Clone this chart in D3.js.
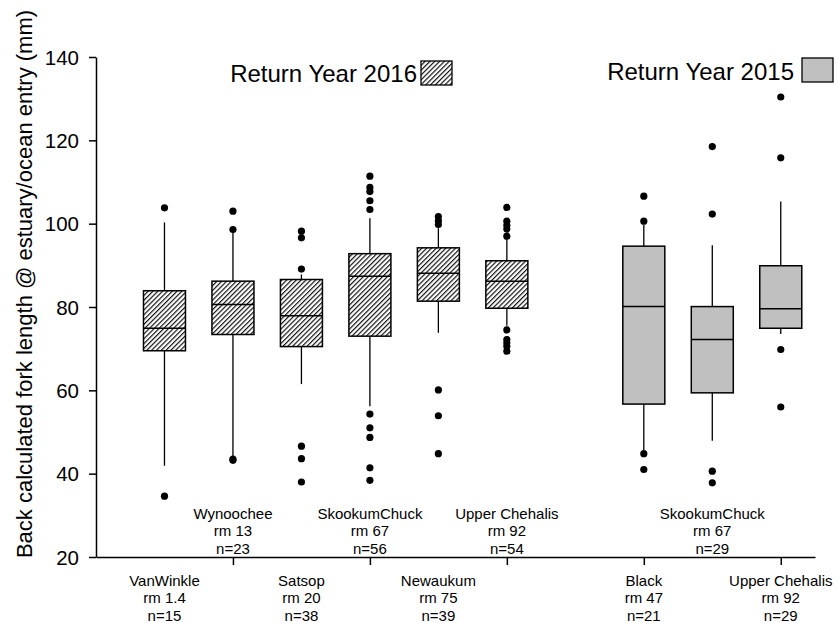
<!DOCTYPE html>
<html>
<head>
<meta charset="utf-8">
<script src="https://cdn.jsdelivr.net/npm/d3@7"></script>
<style>
  body { margin: 0; background: #fff; }
  svg text { font-family: Arial, "Liberation Sans", sans-serif; fill: #000; }
</style>
</head>
<body>
<div id="chart"></div>
<script>
// site info
var sites = ["VanWinkle", "Wynoochee", "Satsop", "SkookumChuck", "Newaukum", "Upper Chehalis", "Black", "SkookumChuck", "Upper Chehalis"];
var riverMile = ["1.4", "13", "20", "67", "75", "92", "47", "67", "92"];
var sampleN = [15, 23, 38, 56, 39, 54, 21, 29, 29];
var returnYear = [2016, 2016, 2016, 2016, 2016, 2016, 2015, 2015, 2015];
var slot = [1, 2, 3, 4, 5, 6, 8, 9, 10];

// box stats (mm)
var whiskerLow = [41.9, 43.8, 61.5, 56.2, 73.8, 75.5, 45.7, 47.9, 73.5];
var q1 = [69.5, 73.4, 70.5, 73.0, 81.4, 79.7, 56.7, 59.4, 74.9];
var median = [74.9, 80.6, 77.9, 87.4, 88.1, 86.2, 80.1, 72.2, 79.6];
var q3 = [83.9, 86.2, 86.6, 92.8, 94.2, 91.1, 94.6, 80.1, 89.9];
var whiskerHigh = [100.3, 98.6, 87.8, 101.3, 98.9, 96.3, 99.7, 94.8, 105.3];
var outliers = [
  [103.8, 34.6],
  [103.0, 98.6, 43.5, 43.2],
  [98.2, 96.6, 89.1, 46.6, 43.6, 38.0],
  [111.4, 108.7, 107.7, 105.5, 103.4, 54.3, 51.0, 48.7, 41.4, 38.4],
  [101.7, 100.7, 99.8, 60.1, 53.9, 44.8],
  [103.9, 100.6, 99.6, 98.7, 97.0, 74.5, 72.2, 71.4, 70.6, 69.4],
  [106.6, 100.6, 44.8, 41.0],
  [118.5, 102.3, 40.6, 37.8],
  [130.4, 115.8, 69.8, 56.0]
];

var yTicks = [20, 40, 60, 80, 100, 120, 140];
var xTicks = [2, 4, 6, 8, 10];
var legendYears = [2016, 2015];

var svg = d3.select("#chart").append("svg").attr("width", 838).attr("height", 623);

var defs = svg.append("defs");
var pat = defs.append("pattern")
    .attr("id", "hatch")
    .attr("patternUnits", "userSpaceOnUse")
    .attr("width", 3.4).attr("height", 3.4)
    .attr("patternTransform", "rotate(45)");
pat.append("rect").attr("width", 3.4).attr("height", 3.4).attr("fill", "#fff");
pat.append("line").attr("x1", 0.6).attr("y1", 0).attr("x2", 0.6).attr("y2", 3.4)
    .attr("stroke", "#000").attr("stroke-width", 1.1);

function fillFor(year) {
    return year === 2016 ? "url(#hatch)" : "#c0c0c0";
}

var x = d3.scaleLinear().domain([0, 10.5]).range([96, 815]);
var y = d3.scaleLinear().domain([20, 140]).range([557, 57]);
var boxW = 42;

// axes
var yAxis = svg.append("g")
    .attr("transform", "translate(96,0)")
    .call(d3.axisLeft(y).tickValues(yTicks).tickSize(7).tickSizeOuter(0).tickPadding(10));
yAxis.selectAll("text").style("font-size", "20.5px").attr("dy", "0.35em");

var xAxis = svg.append("g")
    .attr("transform", "translate(0,557)")
    .call(d3.axisBottom(x).tickValues(xTicks).tickSize(8).tickSizeOuter(0).tickFormat(""));

svg.selectAll(".domain, .tick line").attr("stroke", "#000").attr("stroke-width", 1.5);

svg.append("text")
    .attr("transform", "translate(32,284) rotate(-90)")
    .attr("text-anchor", "middle")
    .style("font-size", "22px")
    .text("Back calculated fork length @ estuary/ocean entry (mm)");

// boxes
var boxes = svg.selectAll(".box")
    .data(sites)
    .enter().append("g")
    .attr("class", "box")
    .attr("transform", function (d, i) { return "translate(" + x(slot[i]) + ",0)"; });

boxes.append("line")
    .attr("x1", 0).attr("x2", 0)
    .attr("y1", function (d, i) { return y(whiskerHigh[i]); })
    .attr("y2", function (d, i) { return y(q3[i]); })
    .attr("stroke", "#000").attr("stroke-width", 1.3);

boxes.append("line")
    .attr("x1", 0).attr("x2", 0)
    .attr("y1", function (d, i) { return y(q1[i]); })
    .attr("y2", function (d, i) { return y(whiskerLow[i]); })
    .attr("stroke", "#000").attr("stroke-width", 1.3);

boxes.append("rect")
    .attr("x", -boxW / 2)
    .attr("width", boxW)
    .attr("y", function (d, i) { return y(q3[i]); })
    .attr("height", function (d, i) { return y(q1[i]) - y(q3[i]); })
    .attr("fill", function (d, i) { return fillFor(returnYear[i]); })
    .attr("stroke", "#000").attr("stroke-width", 1.5);

boxes.append("line")
    .attr("x1", -boxW / 2).attr("x2", boxW / 2)
    .attr("y1", function (d, i) { return y(median[i]); })
    .attr("y2", function (d, i) { return y(median[i]); })
    .attr("stroke", "#000").attr("stroke-width", 1.5);

boxes.each(function (d, i) {
    d3.select(this).selectAll("circle")
        .data(outliers[i])
        .enter().append("circle")
        .attr("cx", 0)
        .attr("cy", function (v) { return y(v); })
        .attr("r", 3.6)
        .attr("fill", "#000");
});

// site labels, alternating under / over the axis
var labels = svg.selectAll(".lab")
    .data(sites)
    .enter().append("text")
    .attr("class", "lab")
    .attr("text-anchor", "middle")
    .style("font-size", "15px")
    .attr("transform", function (d, i) {
        var base = (i % 2 === 0) ? 586 : 519;
        return "translate(" + x(slot[i]) + "," + base + ")";
    });

labels.append("tspan").attr("x", 0).attr("y", 0).text(function (d) { return d; });
labels.append("tspan").attr("x", 0).attr("y", 17.3).text(function (d, i) { return "rm " + riverMile[i]; });
labels.append("tspan").attr("x", 0).attr("y", 34.6).text(function (d, i) { return "n=" + sampleN[i]; });

// legend
var legPos = [{tx: 417, ty: 81.5, px: 421, py: 61}, {tx: 794, ty: 79.5, px: 802, py: 58}];
legendYears.forEach(function (yr, k) {
    svg.append("text")
        .attr("x", legPos[k].tx).attr("y", legPos[k].ty)
        .attr("text-anchor", "end")
        .style("font-size", "24px")
        .text("Return Year " + yr);
    svg.append("rect")
        .attr("x", legPos[k].px).attr("y", legPos[k].py)
        .attr("width", 31).attr("height", 24)
        .attr("fill", fillFor(yr))
        .attr("stroke", "#000").attr("stroke-width", 1.3);
});
</script>
</body>
</html>
